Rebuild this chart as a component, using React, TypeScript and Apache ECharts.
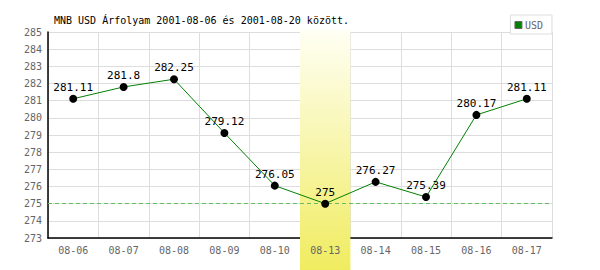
import React, { useEffect, useRef } from "react";
import * as echarts from "echarts";

const titleText = "MNB USD Árfolyam 2001-08-06 és 2001-08-20 között.";
const seriesName = "USD";
const categories = ["08-06", "08-07", "08-08", "08-09", "08-10", "08-13", "08-14", "08-15", "08-16", "08-17"];
const values = [281.11, 281.8, 282.25, 279.12, 276.05, 275, 276.27, 275.39, 280.17, 281.11];
const yMin = 273;
const yMax = 285;
const yInterval = 1;
const referenceValue = 275;
const highlightCategory = "08-13";

const MONO = "'DejaVu Sans Mono', monospace";

export default function App() {
  const ref = useRef<HTMLDivElement>(null);

  useEffect(() => {
    if (!ref.current) return;
    const chart = echarts.init(ref.current, null, { renderer: "svg", width: 600, height: 270 });
    const grid = { left: 48, right: 48, top: 32, bottom: 32 };
    const option: any = {
      animation: false,
      backgroundColor: "#ffffff",
      grid,
      legend: {
        data: [{ name: seriesName, icon: "rect" }],
        right: 48,
        top: 15,
        orient: "horizontal",
        backgroundColor: "#ffffff",
        borderColor: "#dddddd",
        borderWidth: 1,
        padding: [5, 9, 4, 4],
        itemWidth: 7,
        itemHeight: 7,
        itemGap: 0,
        itemStyle: { color: "#008000", borderColor: "#666666", borderWidth: 1 },
        textStyle: { fontFamily: MONO, fontSize: 10, color: "#666666", padding: [0, 0, 0, -2] },
        z: 10,
      },
      xAxis: [
        {
          type: "category",
          data: categories,
          boundaryGap: true,
          position: "bottom",
          axisLine: { show: true, lineStyle: { color: "#000000", width: 1.5 } },
          axisTick: { show: false },
          axisLabel: { show: false },
          splitLine: { show: true, lineStyle: { color: "#dddddd", width: 1 } },
          z: 0,
        },
        {
          type: "category",
          data: categories,
          boundaryGap: true,
          position: "bottom",
          axisLine: { show: false },
          axisTick: { show: false },
          splitLine: { show: false },
          axisLabel: { show: true, color: "#666666", fontFamily: MONO, fontSize: 10, margin: 7 },
          z: 10,
        },
      ],
      yAxis: {
        type: "value",
        min: yMin,
        max: yMax,
        interval: yInterval,
        axisLine: { show: true, lineStyle: { color: "#000000", width: 1.5 } },
        axisTick: { show: false },
        axisLabel: { color: "#666666", fontFamily: MONO, fontSize: 10, margin: 6 },
        splitLine: { show: true, lineStyle: { color: "#dddddd", width: 1 } },
        z: 0,
      },
      series: [
        {
          name: "ref",
          type: "line",
          data: [],
          z: 0,
          silent: true,
          color: "#66bb66",
          markLine: {
            silent: true,
            symbol: "none",
            label: { show: false },
            emphasis: { disabled: true },
            lineStyle: { color: "#66bb66", type: [4, 3], width: 1, opacity: 1 },
            data: [{ yAxis: referenceValue, lineStyle: { color: "#66bb66" } }],
          },
        },
        {
          name: seriesName,
          type: "line",
          data: values,
          z: 5,
          symbol: "circle",
          symbolSize: 8,
          itemStyle: { color: "#000000" },
          lineStyle: { color: "#008000", width: 1 },
          label: {
            show: true,
            position: "top",
            distance: 2,
            color: "#000000",
            fontFamily: MONO,
            fontSize: 11,
          },
        },
      ],
    };
    chart.setOption(option);

    const idx = categories.indexOf(highlightCategory);
    const cx = chart.convertToPixel({ xAxisIndex: 0 }, categories[idx]) as number;
    const cxPrev = chart.convertToPixel({ xAxisIndex: 0 }, categories[idx - 1]) as number;
    const half = (cx - cxPrev) / 2;
    const topY = (chart.convertToPixel({ yAxisIndex: 0 }, yMax) as number) - 2;
    chart.setOption({
      graphic: [
        {
          type: "rect",
          z: 3,
          silent: true,
          shape: { x: cx - half, y: topY, width: half * 2, height: 270 - topY },
          style: {
            fill: new echarts.graphic.LinearGradient(0, 0, 0, 1, [
              { offset: 0, color: "#fffff4" },
              { offset: 1, color: "#f0ec60" },
            ]),
          },
        },
        {
          type: "text",
          x: 54,
          y: 20,
          silent: true,
          style: {
            text: titleText,
            fill: "#000000",
            font: `10px ${MONO}`,
            verticalAlign: "middle",
          },
          z: 10,
        },
      ],
    });

    return () => chart.dispose();
  }, []);

  return (
    <div
      ref={ref}
      style={{ position: "fixed", left: 0, top: 0, width: 600, height: 270, background: "#fff" }}
    />
  );
}
